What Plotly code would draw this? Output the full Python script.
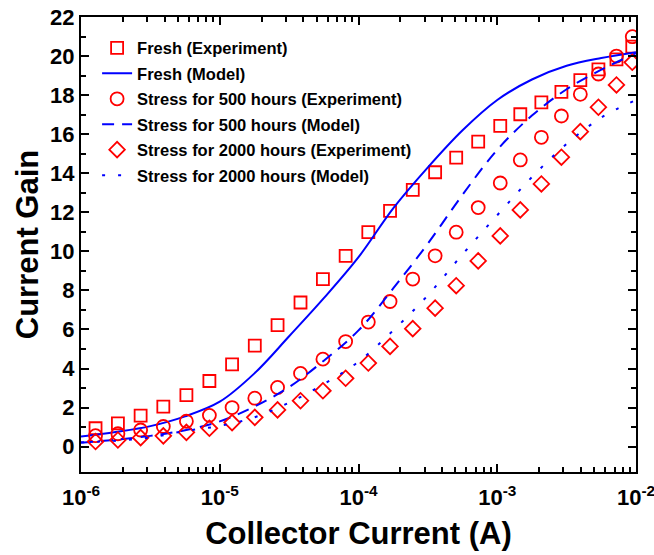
import plotly.graph_objects as go

# Experimental collector currents (A)
exp_current = [1.273e-6, 1.845e-6, 2.69e-6, 3.92e-6, 5.75e-6, 8.42e-6, 1.227e-5, 1.789e-5,
               2.61e-5, 3.82e-5, 5.54e-5, 8.08e-5, 1.177e-4, 1.688e-4, 2.461e-4, 3.567e-4,
               5.06e-4, 7.29e-4, 1.051e-3, 1.466e-3, 2.08e-3, 2.90e-3, 3.97e-3, 5.36e-3,
               7.23e-3, 9.40e-3]
fresh_exp = [0.94, 1.19, 1.59, 2.05, 2.64, 3.36, 4.21, 5.17, 6.22, 7.38, 8.58, 9.77, 10.98,
             12.07, 13.15, 14.05, 14.80, 15.62, 16.42, 17.02, 17.63, 18.17, 18.77, 19.32,
             19.83, 20.48]
stress500_exp = [0.56, 0.66, 0.85, 1.03, 1.30, 1.60, 2.00, 2.48, 3.03, 3.75, 4.48, 5.38, 6.38,
                 7.43, 8.58, 9.77, 10.98, 12.24, 13.50, 14.68, 15.84, 16.93, 18.04, 19.08,
                 20.00, 20.99]
stress2000_exp = [0.26, 0.34, 0.46, 0.55, 0.73, 0.94, 1.23, 1.50, 1.88, 2.35, 2.86, 3.50, 4.28,
                  5.13, 6.04, 7.09, 8.24, 9.51, 10.79, 12.12, 13.45, 14.82, 16.13, 17.38,
                  18.52, 19.68]

# Model curves
model_current = [1.0e-6, 1.778e-6, 3.162e-6, 5.623e-6, 1.0e-5, 1.778e-5, 3.162e-5, 5.623e-5,
                 1.0e-4, 1.778e-4, 3.162e-4, 5.623e-4, 1.0e-3, 1.778e-3, 3.162e-3, 5.623e-3,
                 1.0e-2]
fresh_model = [0.52, 0.75, 1.05, 1.55, 2.3, 3.75, 5.65, 7.6, 9.7, 12.2, 14.3, 16.2, 17.75,
               18.8, 19.5, 19.9, 20.2]
stress500_model = [0.2, 0.35, 0.55, 0.84, 1.29, 2.05, 3.05, 4.4, 5.95, 8.1, 10.4, 12.9, 15.2,
                   16.95, 18.3, 19.3, 20.15]
stress2000_model = [0.22, 0.3, 0.47, 0.8, 1.06, 1.5, 2.25, 3.2, 4.35, 5.95, 7.75, 9.85, 11.85,
                    13.8, 15.5, 16.85, 17.75]

x_tick_vals = [1e-6, 1e-5, 1e-4, 1e-3, 1e-2]
x_tick_text = ["10<sup>-6</sup>", "10<sup>-5</sup>", "10<sup>-4</sup>", "10<sup>-3</sup>", "10<sup>-2</sup>"]
x_minor_vals = [m * d for d in [1e-6, 1e-5, 1e-4, 1e-3] for m in range(2, 10)]

RED = "#ff0000"
BLUE = "#0000ff"
FONT = "Liberation Sans, Arial, sans-serif"

fig = go.Figure()

def exp_trace(y, name, symbol, size, grp):
    return go.Scatter(x=exp_current, y=y, mode="markers", name=name, legendgroup=grp,
                      marker=dict(symbol=symbol, size=size, color=RED,
                                  line=dict(color=RED, width=1.8)))

def model_trace(y, name, dash, grp):
    return go.Scatter(x=model_current, y=y, mode="lines", name=name, legendgroup=grp,
                      line=dict(color=BLUE, width=2, dash=dash, shape="spline", smoothing=1.0))

fig.add_trace(exp_trace(fresh_exp, "Fresh (Experiment)", "square-open", 12, "a"))
fig.add_trace(model_trace(fresh_model, "Fresh (Model)", "solid", "b"))
fig.add_trace(exp_trace(stress500_exp, "Stress for 500 hours (Experiment)", "circle-open", 13, "c"))
fig.add_trace(model_trace(stress500_model, "Stress for 500 hours (Model)", "12px,8px", "d"))
fig.add_trace(exp_trace(stress2000_exp, "Stress for 2000 hours (Experiment)", "diamond-open", 12, "e"))
fig.add_trace(model_trace(stress2000_model, "Stress for 2000 hours (Model)", "3px,13px", "f"))

axis_common = dict(showline=True, linewidth=2, linecolor="black", mirror="ticks",
                   ticks="inside", tickwidth=2, tickcolor="black", showgrid=False,
                   zeroline=False, automargin=False, ticklabeloverflow="allow",
                   tickfont=dict(family=FONT, size=22, color="black"))

fig.update_xaxes(type="log", range=[-6, -2], tickmode="array", tickvals=x_tick_vals,
                 ticktext=["<b>" + t + "</b>" for t in x_tick_text], ticklen=8,
                 ticklabelstandoff=5,
                 minor=dict(tickmode="array", tickvals=x_minor_vals, ticks="inside",
                            ticklen=5, tickwidth=2, tickcolor="black"),
                 title=dict(text="<b>Collector Current (A)</b>",
                            font=dict(family=FONT, size=31, color="black"), standoff=13),
                 **axis_common)
fig.update_yaxes(range=[-1.3, 22], tickmode="array", tickvals=list(range(0, 23, 2)),
                 ticktext=["<b>%d</b>" % v for v in range(0, 23, 2)], ticklen=8,
                 minor=dict(tickmode="array", tickvals=list(range(1, 22, 2)), ticks="inside",
                            ticklen=5, tickwidth=2, tickcolor="black"),
                 title=dict(text="<b>Current Gain</b>",
                            font=dict(family=FONT, size=31, color="black"), standoff=2),
                 **axis_common)

fig.update_layout(
    width=654, height=555,
    margin=dict(l=81, r=18, t=17, b=83),
    paper_bgcolor="white", plot_bgcolor="white",
    font=dict(family=FONT, color="black"),
    legend=dict(x=0.029, y=0.97, xanchor="left", yanchor="top",
                bgcolor="rgba(0,0,0,0)", borderwidth=0,
                traceorder="grouped", tracegroupgap=1,
                font=dict(family=FONT, size=16.5, color="black", weight="bold")),
    showlegend=True,
)

fig.write_html("out.html", config={"displayModeBar": False},
               post_script="document.body.style.margin='0';document.body.style.overflow='hidden';")
